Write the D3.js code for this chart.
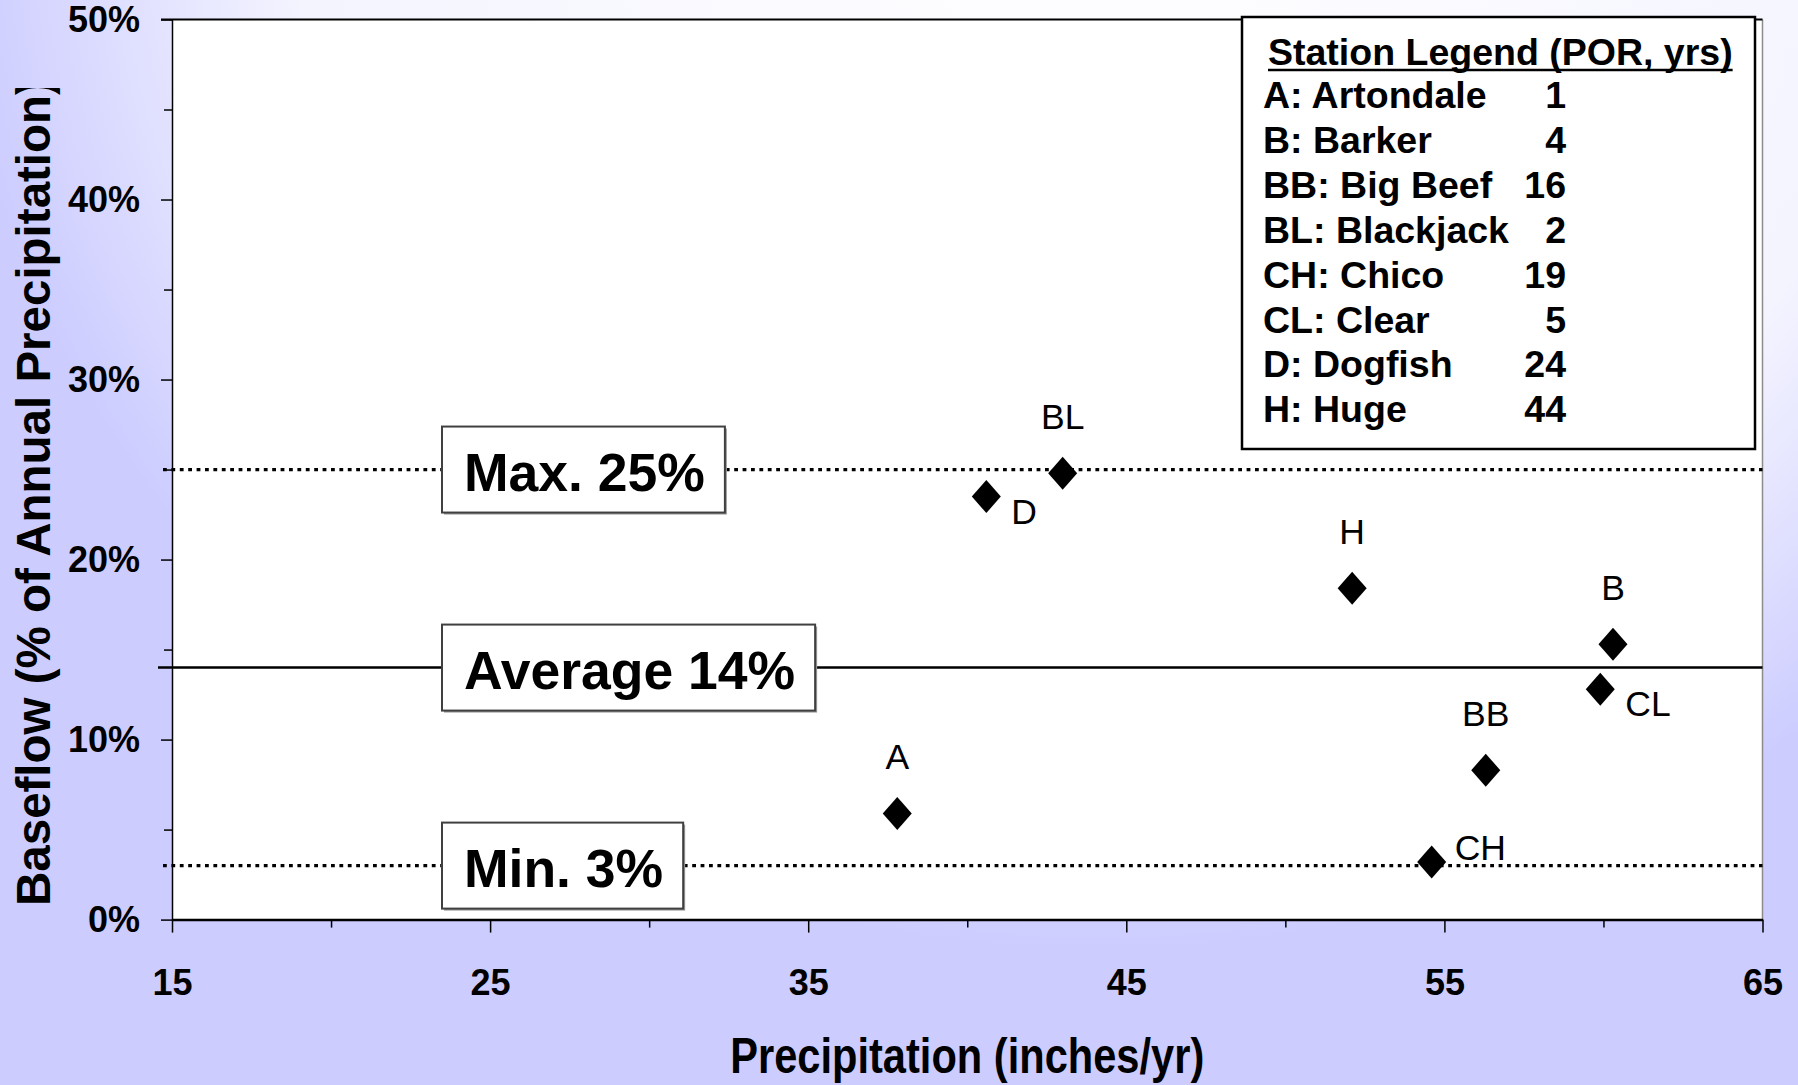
<!DOCTYPE html>
<html>
<head>
<meta charset="utf-8">
<script src="https://cdn.jsdelivr.net/npm/d3@7"></script>
<style>
  html, body { margin: 0; padding: 0; background: #ccccff; }
  svg { display: block; font-family: "Liberation Sans", Arial, sans-serif; }
</style>
</head>
<body>
<svg id="chart" width="1798" height="1085"></svg>
<script>
// Stations: precipitation (inches/yr) vs baseflow (% of annual precipitation)
const stations = ["A", "D", "BL", "H", "B", "CL", "BB", "CH"];
const precipitation = [37.8, 40.6, 43.0, 52.1, 60.3, 59.9, 56.3, 54.6];
const baseflow = [5.9, 23.5, 24.8, 18.4, 15.3, 12.8, 8.3, 3.2];

// Reference lines
const refLabels = ["Max. 25%", "Average 14%", "Min. 3%"];
const refValues = [25, 14, 3];
const refDotted = [true, false, true];

// Legend
const legendTitle = "Station Legend (POR, yrs)";
const legendNames = ["A: Artondale", "B: Barker", "BB: Big Beef", "BL: Blackjack",
                     "CH: Chico", "CL: Clear", "D: Dogfish", "H: Huge"];
const legendYears = [1, 4, 16, 2, 19, 5, 24, 44];

// Ticks
const xMajorTicks = [15, 25, 35, 45, 55, 65];
const xMinorTicks = [20, 30, 40, 50, 60];
const yMajorTicks = [0, 10, 20, 30, 40, 50];
const yMinorTicks = [5, 15, 25, 35, 45];

// Configuration
const config = {
    width: 1798,
    height: 1085,
    margin: { top: 19.5, right: 35.5, bottom: 165.4, left: 172 },
    font: '"Liberation Sans", Arial, sans-serif',
    lavender: "#ccccff",
    // where each station label sits relative to its marker
    labelPlacement: { A: "above", D: "right", BL: "above", H: "above", B: "above",
                      CL: "right", BB: "above", CH: "rightAbove" },
    boxOffset: 270
};

const placements = {
    above:      { dx: 0,  dy: -44, anchor: "middle" },
    right:      { dx: 25, dy: 27,  anchor: "start" },
    rightAbove: { dx: 23, dy: -2,  anchor: "start" }
};

// Diamond marker, a little taller than wide
const diamond = {
    draw(ctx, size) {
        const hh = Math.sqrt(size / (2 * 0.88));
        const hw = hh * 0.88;
        ctx.moveTo(0, -hh);
        ctx.lineTo(hw, 0);
        ctx.lineTo(0, hh);
        ctx.lineTo(-hw, 0);
        ctx.closePath();
    }
};

const svg = d3.select("#chart");
const m = config.margin;
const innerW = config.width - m.left - m.right;
const innerH = config.height - m.top - m.bottom;

// Background gradient
const defs = svg.append("defs");
const grad = defs.append("radialGradient")
    .attr("id", "bg")
    .attr("gradientUnits", "userSpaceOnUse")
    .attr("cx", 0).attr("cy", 0).attr("r", 1)
    .attr("gradientTransform", "translate(1100,-100) scale(1150,1050)");
grad.append("stop").attr("offset", 0).attr("stop-color", "#ffffff");
grad.append("stop").attr("offset", 0.7).attr("stop-color", "#f4f4ff");
grad.append("stop").attr("offset", 1).attr("stop-color", config.lavender);

defs.append("clipPath").attr("id", "ytitle-clip")
    .append("rect").attr("x", 0).attr("y", 88).attr("width", 172).attr("height", 1000);

svg.append("rect")
    .attr("width", config.width)
    .attr("height", config.height)
    .attr("fill", "url(#bg)");

const g = svg.append("g").attr("transform", `translate(${m.left},${m.top})`);

const x = d3.scaleLinear().domain([15, 65]).range([0, innerW]);
const y = d3.scaleLinear().domain([0, 50]).range([innerH, 0]);

// Plot area
g.append("rect")
    .attr("width", innerW)
    .attr("height", innerH)
    .attr("fill", "#ffffff");

g.append("line")
    .attr("x1", x(65)).attr("x2", x(65))
    .attr("y1", 0).attr("y2", innerH)
    .attr("stroke", "#8c8c8c").attr("stroke-width", 1.5);

g.append("line")
    .attr("x1", -11).attr("x2", innerW)
    .attr("y1", 0).attr("y2", 0)
    .attr("stroke", "#000").attr("stroke-width", 2);

// Y axis
const yAxis = g.append("g")
    .call(d3.axisLeft(y).tickValues(yMajorTicks).tickSize(11).tickSizeOuter(0)
        .tickPadding(21).tickFormat(d => d + "%"));
g.append("g")
    .call(d3.axisLeft(y).tickValues(yMinorTicks).tickSize(8).tickFormat(""))
    .call(a => a.select(".domain").remove());

// X axis
const xAxis = g.append("g")
    .attr("transform", `translate(0,${innerH})`)
    .call(d3.axisBottom(x).tickValues(xMajorTicks).tickSize(13).tickSizeOuter(0)
        .tickPadding(37).tickFormat(d3.format("d")));
g.append("g")
    .attr("transform", `translate(0,${innerH})`)
    .call(d3.axisBottom(x).tickValues(xMinorTicks).tickSize(8).tickFormat(""))
    .call(a => a.select(".domain").remove());

g.selectAll(".tick line").attr("stroke", "#000").attr("stroke-width", 1.5);
yAxis.select(".domain").attr("stroke", "#000").attr("stroke-width", 1.5);
xAxis.select(".domain").attr("stroke", "#000").attr("stroke-width", 2.5);
g.selectAll(".tick text")
    .attr("fill", "#000")
    .style("font-family", config.font)
    .style("font-size", "36px")
    .style("font-weight", "bold");

// Axis titles
svg.append("text")
    .attr("x", m.left + innerW / 2)
    .attr("y", 1073)
    .attr("text-anchor", "middle")
    .attr("textLength", 474)
    .attr("lengthAdjust", "spacingAndGlyphs")
    .style("font-size", "50px")
    .style("font-weight", "bold")
    .text("Precipitation (inches/yr)");

svg.append("g")
    .attr("clip-path", "url(#ytitle-clip)")
    .append("text")
    .attr("transform", "translate(50,906) rotate(-90)")
    .attr("text-anchor", "start")
    .style("font-size", "47.5px")
    .style("font-weight", "bold")
    .text("Baseflow (% of Annual Precipitation)");

// Reference lines with boxed labels
refValues.forEach((v, i) => {
    const yy = y(v);
    g.append("line")
        .attr("x1", refDotted[i] ? -9 : -14)
        .attr("x2", innerW)
        .attr("y1", yy).attr("y2", yy)
        .attr("stroke", "#000")
        .attr("stroke-width", refDotted[i] ? 3.3 : 2.5)
        .attr("stroke-dasharray", refDotted[i] ? "3.8,4.6" : null);

    const box = g.append("g").attr("transform", `translate(${config.boxOffset},${yy})`);
    const shadow = box.append("rect");
    const frame = box.append("rect");
    const label = box.append("text")
        .attr("x", 22)
        .attr("dy", "0.4em")
        .style("font-size", "53.5px")
        .style("font-weight", "bold")
        .text(refLabels[i]);
    const w = label.node().getComputedTextLength() + 42;
    shadow.attr("x", 2).attr("y", -41).attr("width", w).attr("height", 86).attr("fill", "#9a9a9a");
    frame.attr("x", 0).attr("y", -43).attr("width", w).attr("height", 86)
        .attr("fill", "#fff").attr("stroke", "#404040").attr("stroke-width", 2);
});

// Points
const points = stations.map((s, i) => ({ name: s, px: precipitation[i], bf: baseflow[i] }));

g.selectAll(".point")
    .data(points)
    .enter()
    .append("path")
    .attr("class", "point")
    .attr("transform", d => `translate(${x(d.px)},${y(d.bf)})`)
    .attr("d", d3.symbol().type(diamond).size(2 * 14.5 * 16.5))
    .attr("fill", "#000");

g.selectAll(".point-label")
    .data(points)
    .enter()
    .append("text")
    .attr("class", "point-label")
    .attr("x", d => x(d.px) + placements[config.labelPlacement[d.name]].dx)
    .attr("y", d => y(d.bf) + placements[config.labelPlacement[d.name]].dy)
    .attr("text-anchor", d => placements[config.labelPlacement[d.name]].anchor)
    .style("font-size", "35.5px")
    .text(d => d.name);

// Legend box
const legend = svg.append("g").attr("transform", "translate(1242,17)");
legend.append("rect")
    .attr("width", 513)
    .attr("height", 432)
    .attr("fill", "#fff")
    .attr("stroke", "#000")
    .attr("stroke-width", 2.5);

const title = legend.append("text")
    .attr("x", 26)
    .attr("y", 48)
    .style("font-size", "37.5px")
    .style("font-weight", "bold")
    .text(legendTitle);
const tw = title.node().getComputedTextLength();
legend.append("line")
    .attr("x1", 26).attr("x2", 26 + tw)
    .attr("y1", 53).attr("y2", 53)
    .attr("stroke", "#000").attr("stroke-width", 2.5);

legendNames.forEach((name, i) => {
    const row = legend.append("g").attr("transform", `translate(0,${91 + i * 44.9})`);
    row.append("text")
        .attr("x", 21)
        .style("font-size", "37.5px")
        .style("font-weight", "bold")
        .text(name);
    row.append("text")
        .attr("x", 324)
        .attr("text-anchor", "end")
        .style("font-size", "37.5px")
        .style("font-weight", "bold")
        .text(legendYears[i]);
});
</script>
</body>
</html>
